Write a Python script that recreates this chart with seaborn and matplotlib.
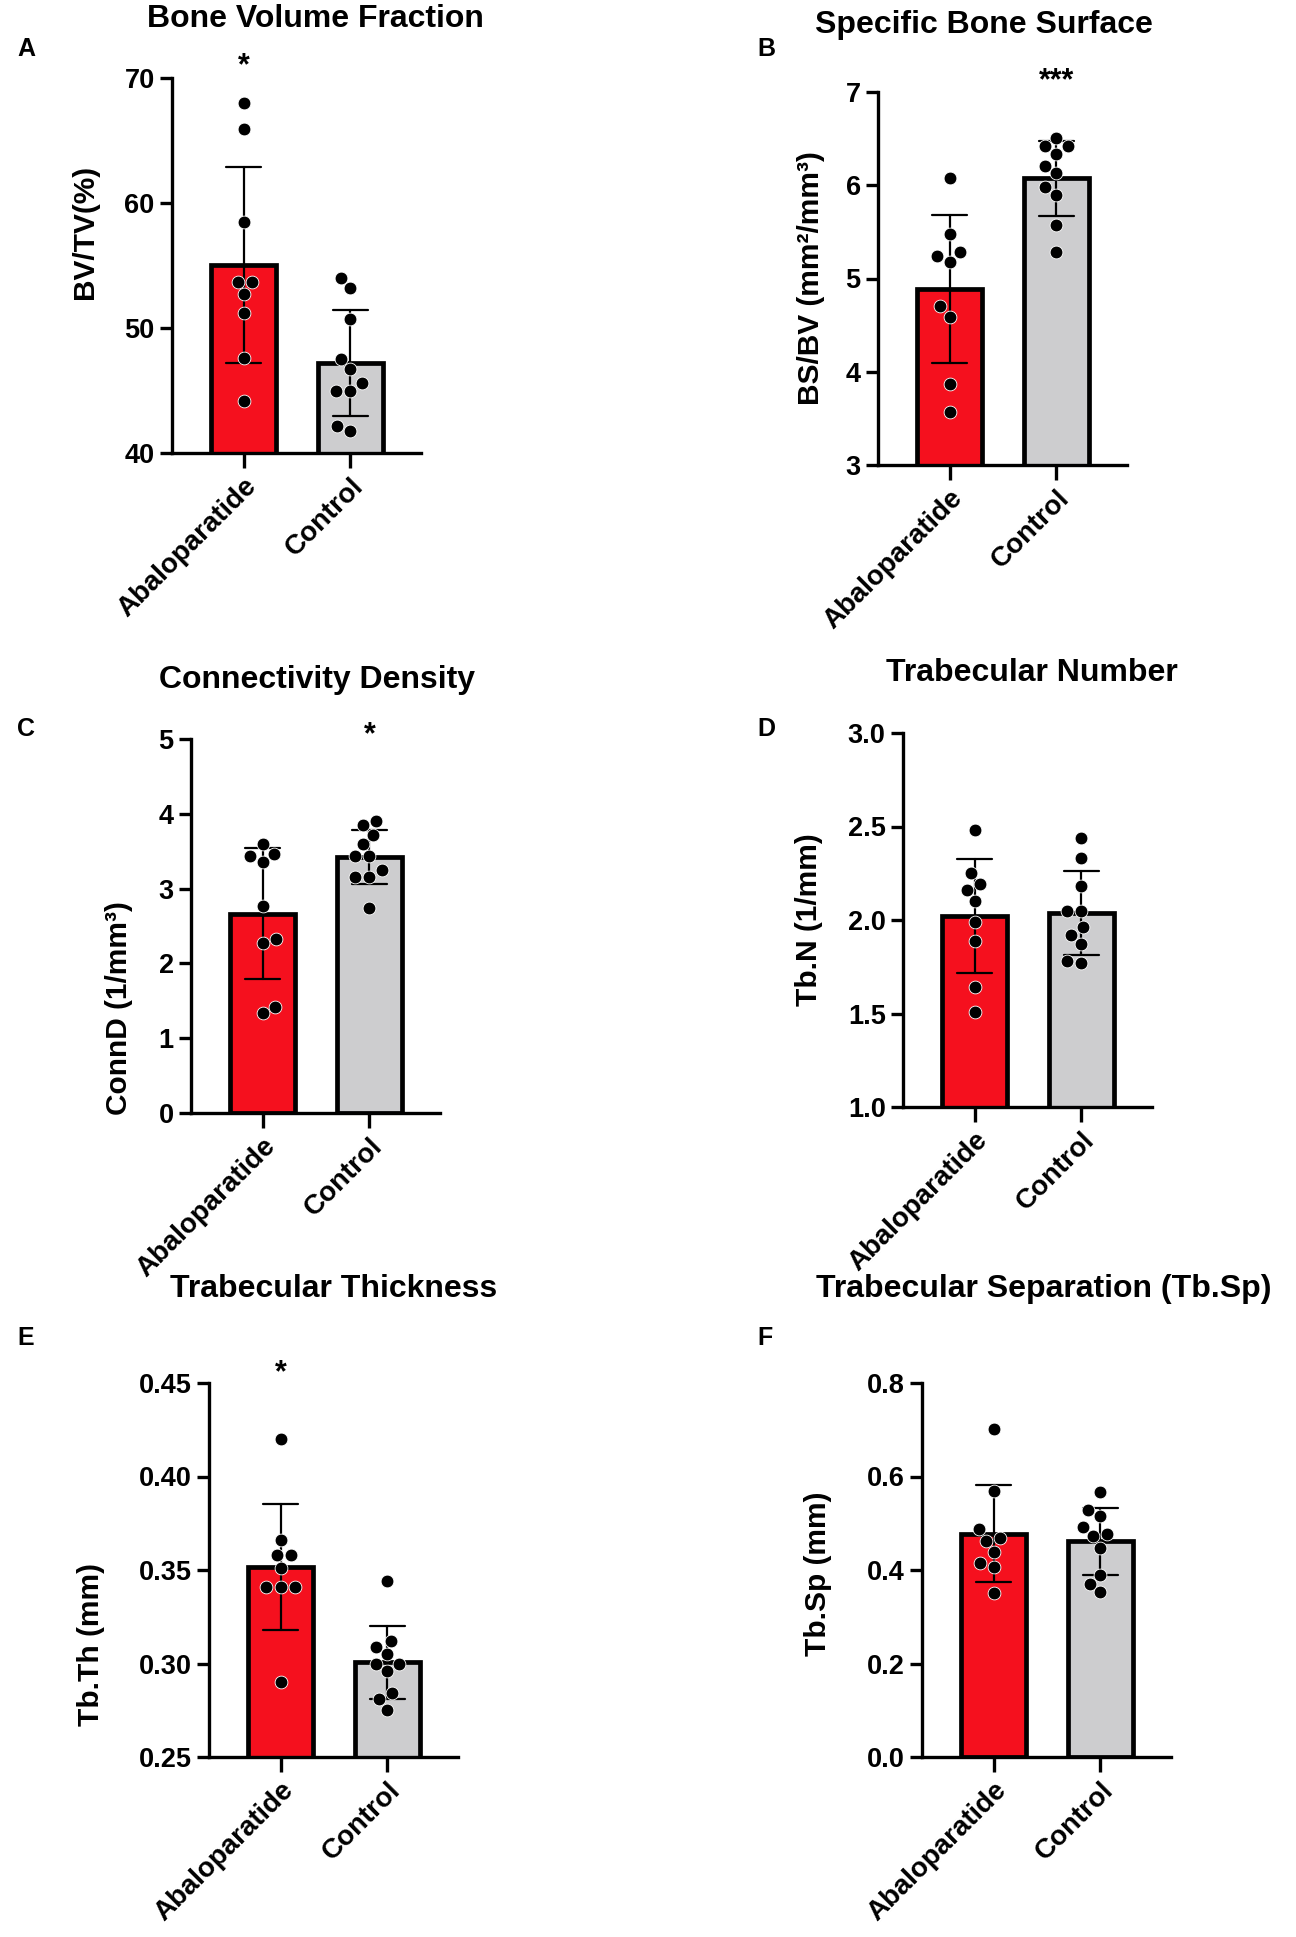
import numpy as np
import pandas as pd
import matplotlib.pyplot as plt
import seaborn as sns
from matplotlib.ticker import FormatStrFormatter

# groups and colours
groups = ["Abaloparatide", "Control"]
colors = ["#F5101E", "#CDCDCF"]

# values (one dot = one animal)
bvtv_aba = [68.0, 65.9, 58.5, 53.7, 53.7, 52.7, 51.2, 47.6, 44.2]
bvtv_ctl = [54.0, 53.2, 50.7, 47.5, 46.7, 45.6, 45.0, 45.0, 42.2, 41.8]

bsbv_aba = [6.08, 5.48, 5.28, 5.24, 5.18, 4.70, 4.59, 3.87, 3.57]
bsbv_ctl = [6.51, 6.42, 6.42, 6.33, 6.21, 6.13, 5.98, 5.90, 5.57, 5.28]

connd_aba = [3.46, 3.35, 3.60, 3.44, 2.77, 2.27, 2.33, 1.34, 1.42]
connd_ctl = [3.91, 3.72, 3.85, 3.59, 3.43, 3.43, 3.25, 3.16, 3.16, 2.74]

tbn_aba = [2.48, 2.25, 2.19, 2.16, 2.10, 1.99, 1.89, 1.64, 1.51]
tbn_ctl = [2.44, 2.33, 2.18, 2.05, 2.05, 1.96, 1.92, 1.87, 1.77, 1.78]

tbth_aba = [0.420, 0.366, 0.358, 0.358, 0.351, 0.341, 0.341, 0.341, 0.290]
tbth_ctl = [0.344, 0.309, 0.312, 0.305, 0.300, 0.300, 0.296, 0.284, 0.281, 0.275]

tbsp_aba = [0.702, 0.570, 0.488, 0.469, 0.463, 0.438, 0.415, 0.406, 0.351]
tbsp_ctl = [0.567, 0.529, 0.515, 0.493, 0.476, 0.472, 0.447, 0.390, 0.371, 0.352]

sns.set_style("ticks")
plt.rcParams["font.family"] = ["Liberation Sans", "DejaVu Sans"]
plt.rcParams["font.weight"] = "bold"
plt.rcParams["axes.labelweight"] = "bold"
for k in ["text.color", "axes.labelcolor", "xtick.color", "ytick.color",
          "axes.edgecolor"]:
    plt.rcParams[k] = "black"

W, H = 1296, 1937
fig = plt.figure(figsize=(W / 100, H / 100), dpi=100)


def make_ax(left, top, bottom):
    # pixel box -> figure fraction
    return fig.add_axes([left / W, 1 - bottom / H, 249 / W, (bottom - top) / H])


def panel(ax, aba, ctl, ylim, ticks, fmt, ylabel, lab_xy, star=None):
    df = pd.DataFrame({
        "group": [groups[0]] * len(aba) + [groups[1]] * len(ctl),
        "value": aba + ctl,
    })
    ax.set_xlim(-0.67, 1.66)
    ax.set_ylim(*ylim)
    sns.barplot(data=df, x="group", y="value", hue="group", palette=colors,
                saturation=1, errorbar="sd", capsize=0.33, width=0.61,
                edgecolor="black", linewidth=3.4, legend=False,
                err_kws={"color": "black", "linewidth": 1.6}, ax=ax)
    ax.set_xlim(-0.67, 1.66)
    ax.set_ylim(*ylim)
    sns.swarmplot(data=df, x="group", y="value", color="black", size=9.2,
                  edgecolor="white", linewidth=0.6, ax=ax)
    ax.set_xlim(-0.67, 1.66)
    ax.set_ylim(*ylim)
    ax.set_yticks(ticks)
    ax.yaxis.set_major_formatter(FormatStrFormatter(fmt))
    sns.despine(ax=ax)
    for s in ["left", "bottom"]:
        ax.spines[s].set_linewidth(2.4)
    ax.tick_params(axis="y", length=9, width=2.4, labelsize=19.5)
    ax.tick_params(axis="x", length=11, width=2.4, labelsize=20)
    for t in ax.get_xticklabels():
        t.set_rotation(45)
        t.set_ha("right")
        t.set_rotation_mode("anchor")
    ax.set_xlabel("")
    ax.set_ylabel(ylabel, fontsize=21.5)
    ax.yaxis.set_label_coords(*lab_xy)
    if star is not None:
        ax.text(star[0], star[1], star[2], ha="center", va="center",
                fontsize=22, clip_on=False)


axA = make_ax(172, 78, 453)
panel(axA, bvtv_aba, bvtv_ctl, (40, 70), [40, 50, 60, 70], "%d", "BV/TV(%)",
      (-0.293, 0.59), (0, 70.9, "*"))

axB = make_ax(878, 92, 465)
panel(axB, bsbv_aba, bsbv_ctl, (3, 7), [3, 4, 5, 6, 7], "%d",
      "BS/BV (mm²/mm³)", (-0.213, 0.5), (1, 7.12, "***"))

axC = make_ax(191, 739, 1113)
panel(axC, connd_aba, connd_ctl, (0, 5), [0, 1, 2, 3, 4, 5], "%d",
      "ConnD (1/mm³)", (-0.233, 0.28), (1, 5.05, "*"))

axD = make_ax(903, 733, 1107)
panel(axD, tbn_aba, tbn_ctl, (1.0, 3.0), [1.0, 1.5, 2.0, 2.5, 3.0], "%.1f",
      "Tb.N (1/mm)", (-0.32, 0.5))

axE = make_ax(209, 1383, 1757)
panel(axE, tbth_aba, tbth_ctl, (0.25, 0.45), [0.25, 0.30, 0.35, 0.40, 0.45],
      "%.2f", "Tb.Th (mm)", (-0.418, 0.3), (0, 0.455, "*"))

axF = make_ax(922, 1383, 1757)
panel(axF, tbsp_aba, tbsp_ctl, (0.0, 0.8), [0.0, 0.2, 0.4, 0.6, 0.8], "%.1f",
      "Tb.Sp (mm)", (-0.36, 0.49))

# panel titles and letters
titles = [("Bone Volume Fraction", 315, 19), ("Specific Bone Surface", 984, 25),
          ("Connectivity Density", 317, 680), ("Trabecular Number", 1032, 673),
          ("Trabecular Thickness", 334, 1289),
          ("Trabecular Separation (Tb.Sp)", 1044, 1289)]
for txt, x, y in titles:
    fig.text(x / W, 1 - y / H, txt, ha="center", va="center", fontsize=23,
             fontweight="bold")

letters = [("A", 17, 49), ("B", 757, 49), ("C", 17, 729), ("D", 757, 729),
           ("E", 17, 1338), ("F", 757, 1338)]
for txt, x, y in letters:
    fig.text(x / W, 1 - y / H, txt, ha="left", va="center", fontsize=18,
             fontweight="bold")

fig.savefig("out.png", dpi=100)
